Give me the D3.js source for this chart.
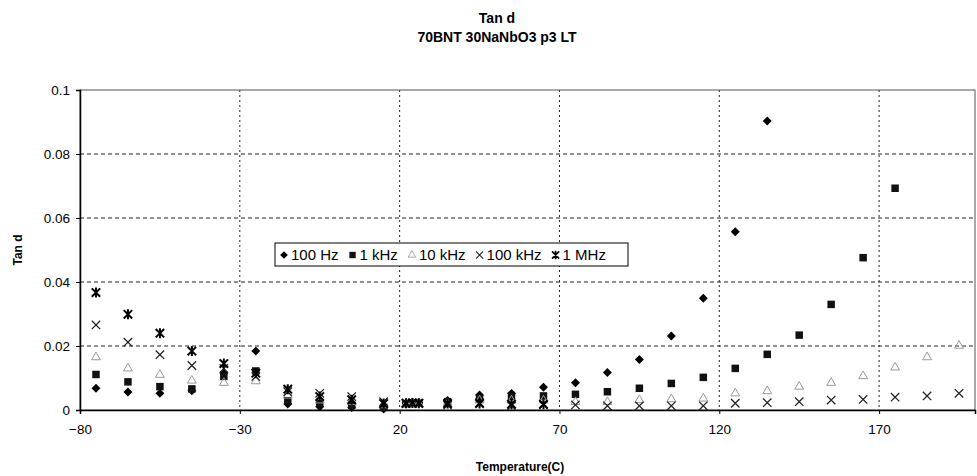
<!DOCTYPE html>
<html>
<head>
<meta charset="utf-8">
<script src="https://cdn.jsdelivr.net/npm/d3@7"></script>
<style>
  body { margin: 0; background: #fff; }
  svg { font-family: 'Liberation Sans', Arial, sans-serif; }
</style>
</head>
<body>
<div id="chart"></div>
<script>
// temperatures (C) of each measurement
const temps = [-75,-65,-55,-45,-35,-25,-15,-5,5,15,22,24,26,35,45,55,65,75,85,95,105,115,125,135,145,155,165,175,185,195];

const hz100  = [0.0068,0.0056,0.0052,0.0060,0.0115,0.0184,0.0019,0.0010,0.0008,0.0003,0.0022,0.0024,0.0023,0.0030,0.0047,0.0052,0.0071,0.0085,0.0117,0.0158,0.0231,0.0349,0.0557,0.0903,null,null,null,null,null,null];
const khz1   = [0.0111,0.0088,0.0073,0.0066,0.0105,0.0122,0.0029,0.0020,0.0015,0.0008,0.0020,0.0022,0.0021,0.0026,0.0035,0.0042,0.0044,0.0049,0.0057,0.0068,0.0083,0.0102,0.0130,0.0174,0.0234,0.0330,0.0476,0.0693,null,null];
const khz10  = [0.0165,0.0130,0.0110,0.0092,0.0085,0.0090,0.0045,0.0030,0.0025,0.0015,0.0018,0.0020,0.0019,0.0020,0.0030,0.0030,0.0030,0.0025,0.0025,0.0031,0.0034,0.0036,0.0052,0.0059,0.0073,0.0085,0.0106,0.0133,0.0165,0.0201];
const khz100 = [0.0266,0.0212,0.0173,0.0139,0.0130,0.0105,0.0057,0.0052,0.0042,0.0026,0.0020,0.0021,0.0020,0.0015,0.0023,0.0013,0.0016,0.0016,0.0013,0.0013,0.0013,0.0013,0.0021,0.0023,0.0026,0.0031,0.0033,0.0040,0.0044,0.0052];
const mhz1   = [0.0367,0.0299,0.0240,0.0184,0.0145,0.0115,0.0065,0.0042,0.0032,0.0020,0.0021,0.0022,0.0021,0.0020,0.0020,0.0018,0.0018,null,null,null,null,null,null,null,null,null,null,null,null,null];

const seriesNames = ['100 Hz', '1 kHz', '10 kHz', '100 kHz', '1 MHz'];
const seriesValues = [hz100, khz1, khz10, khz100, mhz1];
const xTicks = [-80, -30, 20, 70, 120, 170];
const yTicks = [0, 0.02, 0.04, 0.06, 0.08, 0.1];

const W = 977, H = 476;
const margin = { top: 90, right: 2, bottom: 66, left: 80 };
const iw = W - margin.left - margin.right;
const ih = H - margin.top - margin.bottom;

const svg = d3.select('#chart').append('svg')
  .attr('width', W).attr('height', H);

const x = d3.scaleLinear().domain([-80, 200]).range([0, iw]);
const y = d3.scaleLinear().domain([0, 0.1]).range([ih, 0]);

const g = svg.append('g').attr('transform', `translate(${margin.left},${margin.top})`);

// titles
svg.append('text').text('Tan d')
  .attr('x', 497).attr('y', 23).attr('text-anchor', 'middle')
  .attr('font-size', 14).attr('font-weight', 'bold');
svg.append('text').text('70BNT 30NaNbO3 p3 LT')
  .attr('x', 497).attr('y', 42).attr('text-anchor', 'middle')
  .attr('font-size', 14).attr('font-weight', 'bold');

// grid
g.append('g').selectAll('line').data(yTicks.filter(d => d > 0 && d < 0.1)).join('line')
  .attr('x1', 0).attr('x2', iw).attr('y1', d => y(d)).attr('y2', d => y(d))
  .attr('stroke', '#222').attr('stroke-width', 1).attr('stroke-dasharray', '4,3');
g.append('g').selectAll('line').data(xTicks.filter(d => d > -80)).join('line')
  .attr('x1', d => x(d)).attr('x2', d => x(d)).attr('y1', 0).attr('y2', ih)
  .attr('stroke', '#222').attr('stroke-width', 1).attr('stroke-dasharray', '2,3');

// frame
g.append('rect').attr('x', 0).attr('y', 0).attr('width', iw).attr('height', ih)
  .attr('fill', 'none').attr('stroke', '#555').attr('stroke-width', 1);

// axes
const xAxis = g.append('g').attr('transform', `translate(0,${ih})`)
  .call(d3.axisBottom(x).tickValues(xTicks).tickSize(4).tickPadding(10).tickFormat(d3.format('d')));
const yAxis = g.append('g')
  .call(d3.axisLeft(y).tickValues(yTicks).tickSize(4).tickPadding(6).tickFormat(d => d === 0 ? '0' : d3.format('')(+d.toFixed(2))));
[xAxis, yAxis].forEach(a => {
  a.select('.domain').attr('stroke', '#000').attr('stroke-width', 1.5);
  a.selectAll('.tick line').attr('stroke', '#000');
  a.selectAll('.tick text').attr('font-size', 13.5).attr('fill', '#000')
    .attr('font-family', "'Liberation Sans', Arial, sans-serif");
});

svg.append('text').text('Temperature(C)')
  .attr('x', 520).attr('y', 471).attr('text-anchor', 'middle')
  .attr('font-size', 12).attr('font-weight', 'bold');
svg.append('text').text('Tan d')
  .attr('transform', `translate(22,${margin.top + ih / 2}) rotate(-90)`)
  .attr('text-anchor', 'middle').attr('font-size', 12).attr('font-weight', 'bold');

// marker shapes
const sym = {
  '100 Hz': { path: d3.symbol(d3.symbolSquare, 40)(), rot: 45, fill: '#000', stroke: 'none', sw: 0 },
  '1 kHz': { path: d3.symbol(d3.symbolSquare, 56)(), rot: 0, fill: '#111', stroke: 'none', sw: 0 },
  '10 kHz': { path: d3.symbol(d3.symbolTriangle, 34)(), rot: 0, fill: 'none', stroke: '#999', sw: 1 },
  '100 kHz': { path: d3.symbol(d3.symbolTimes, 48)(), rot: 0, fill: 'none', stroke: '#222', sw: 1.3 },
  '1 MHz': { path: d3.symbol(d3.symbolTimes, 48)() + 'M0,-5L0,5', rot: 0, fill: 'none', stroke: '#000', sw: 2 }
};

const points = g.append('g');
seriesNames.forEach((name, i) => {
  const s = sym[name];
  const data = temps.map((t, j) => ({ t, v: seriesValues[i][j] })).filter(d => d.v != null);
  points.append('g').selectAll('path').data(data).join('path')
    .attr('d', s.path)
    .attr('transform', d => `translate(${x(d.t)},${y(d.v)}) rotate(${s.rot})`)
    .attr('fill', s.fill).attr('stroke', s.stroke).attr('stroke-width', s.sw);
});

// legend
const lg = svg.append('g').attr('transform', 'translate(275,243)');
lg.append('rect').attr('width', 353).attr('height', 23)
  .attr('fill', '#fff').attr('stroke', '#000').attr('stroke-width', 1);
let lx = 9;
seriesNames.forEach((name) => {
  const s = sym[name];
  lg.append('path').attr('d', s.path)
    .attr('transform', `translate(${lx},12) rotate(${s.rot}) scale(0.85)`)
    .attr('fill', s.fill).attr('stroke', s.stroke).attr('stroke-width', s.sw);
  const t = lg.append('text').text(name)
    .attr('x', lx + 7).attr('y', 17).attr('font-size', 15);
  lx += 7 + t.node().getComputedTextLength() + 14;
});
</script>
</body>
</html>
